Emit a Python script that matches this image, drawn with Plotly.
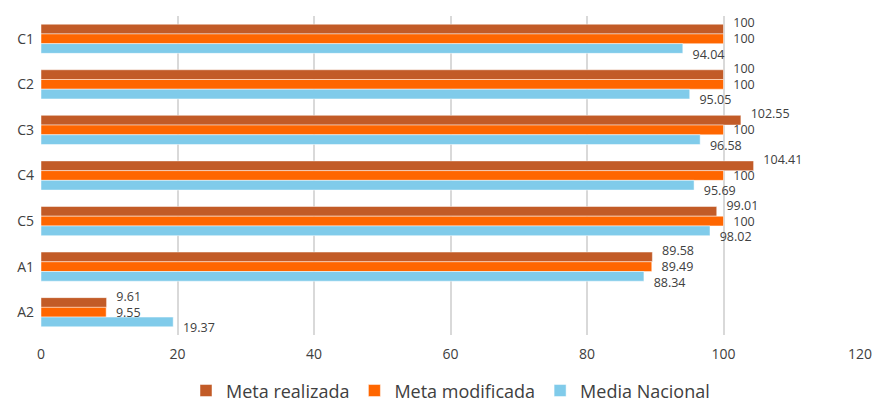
import plotly.graph_objects as go

categories = ["C1", "C2", "C3", "C4", "C5", "A1", "A2"]
meta_realizada = [100, 100, 102.55, 104.41, 99.01, 89.58, 9.61]
meta_modificada = [100, 100, 100, 100, 100, 89.49, 9.55]
media_nacional = [94.04, 95.05, 96.58, 95.69, 98.02, 88.34, 19.37]
series_names = ["Meta realizada", "Meta modificada", "Media Nacional"]
colors = ["#C25B27", "#FF6600", "#80CBEA"]
x_ticks = [0, 20, 40, 60, 80, 100, 120]

FONT = "Open Sans"
TXT = "#404040"
label_offsets = [-0.32, 0.03, 0.37]  # vertical label spread (category units)

pos = list(range(len(categories)))
fig = go.Figure()
for name, vals, col in zip(series_names, [meta_realizada, meta_modificada, media_nacional], colors):
    fig.add_trace(go.Bar(
        y=pos, x=vals, name=name, orientation="h",
        marker=dict(color=col, line=dict(color="rgba(255,255,255,0.6)", width=0.8)),
    ))
for vals, off in zip([meta_realizada, meta_modificada, media_nacional], label_offsets):
    fig.add_trace(go.Scatter(
        y=[p + off for p in pos], x=vals, mode="text",
        text=["   " + f"{v:g}" for v in vals], textposition="middle right",
        textfont=dict(size=12.5, color=TXT, family=FONT),
        showlegend=False, hoverinfo="skip", cliponaxis=False,
    ))

fig.update_layout(
    width=875, height=404,
    margin=dict(l=41, r=15, t=16, b=69, autoexpand=False),
    barmode="group", bargap=0.36, bargroupgap=0,
    plot_bgcolor="white", paper_bgcolor="white",
    font=dict(family=FONT, color=TXT),
    legend=dict(orientation="h", x=0.5, xanchor="center", y=-0.175, yanchor="middle",
                font=dict(size=18, color=TXT, family=FONT), traceorder="normal"),
    xaxis=dict(range=[0, 120], tickvals=x_ticks, showgrid=True, gridcolor="#D9D9D9", gridwidth=1.5,
               zeroline=False, showline=False, tickfont=dict(size=14), ticklabelstandoff=9),
    yaxis=dict(range=[len(categories) - 0.5, -0.5], tickvals=pos, ticktext=categories,
               showgrid=False, showline=False, zeroline=False,
               tickfont=dict(size=14), ticklabelstandoff=6),
)
# remove the default page-body margin so the 875x404 figure fills the window exactly
fig.write_html("out.html", config={"displayModeBar": False},
               post_script="document.body.style.margin='0';document.body.style.overflow='hidden';")
